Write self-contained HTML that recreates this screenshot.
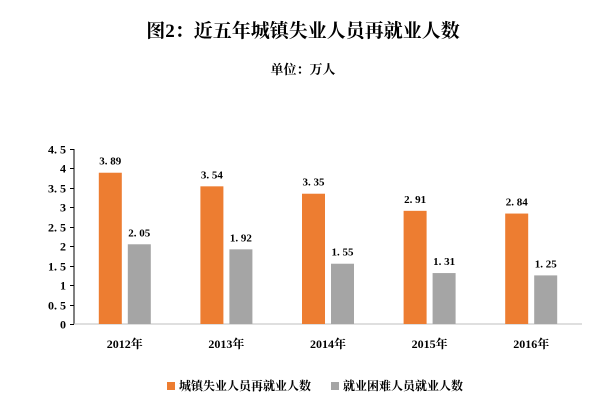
<!DOCTYPE html>
<html><head><meta charset="utf-8"><style>
body{margin:0;background:#fff}
svg text{font-family:"Liberation Serif","Noto Serif CJK SC",serif;font-weight:bold;fill:#000}
</style></head><body>
<svg width="606" height="410" viewBox="0 0 606 410" xmlns="http://www.w3.org/2000/svg">
<text x="303" y="37" text-anchor="middle" font-size="19">图2：近五年城镇失业人员再就业人数</text>
<text x="303" y="74" text-anchor="middle" font-size="13">单位：万人</text>
<g id="plot"></g>
<rect x="167" y="382" width="8" height="8" fill="#ED7D31"/>
<text x="179" y="390" font-size="12">城镇失业人员再就业人数</text>
<rect x="331" y="382" width="8" height="8" fill="#A5A5A5"/>
<text x="343" y="390" font-size="12">就业困难人员就业人数</text>
</svg>
<script>
const categories=["2012年","2013年","2014年","2015年","2016年"];
const reemployed=[3.89,3.54,3.35,2.91,2.84];
const difficult=[2.05,1.92,1.55,1.31,1.25];
const yTicks=["0","0.5","1","1.5","2","2.5","3","3.5","4","4.5"];
const NS="http://www.w3.org/2000/svg";
const g=document.getElementById("plot");
const x0=74,x1=582,yBase=324,yTop=149,yMax=4.5;
const band=(x1-x0)/categories.length;
const y=v=>yBase-(v/yMax)*(yBase-yTop);
function mk(t,a){const e=document.createElementNS(NS,t);for(const k in a)e.setAttribute(k,a[k]);g.appendChild(e);return e;}
let e=mk("line",{x1:x0,y1:yTop,x2:x0,y2:yBase,stroke:"#000","stroke-width":1});


e=mk("line",{x1:x0,y1:yBase,x2:x1,y2:yBase,stroke:"#BFBFBF","stroke-width":1});


yTicks.forEach(t=>{const v=parseFloat(t);const yy=Math.round(y(v))+0.5;
 let l=mk("line",{x1:x0-4,y1:yy,x2:x0,y2:yy,stroke:"#000"});
 
 
 let tx=mk("text",{x:x0-8,y:yy+4,"text-anchor":"end","font-size":"12"});tx.textContent=t.replace(".",". ");
 
 
});
const bw=23,gap=6;
categories.forEach((c,i)=>{
 const cx=x0+band*(i+0.5);
 [[reemployed[i],"#ED7D31",cx-gap/2-bw,"bar-reemployed"],[difficult[i],"#A5A5A5",cx+gap/2,"bar-difficult"]].forEach(([v,col,bx,nm])=>{
  let r=mk("rect",{x:bx,y:y(v),width:bw,height:yBase-y(v),fill:col});
  
  
  let t=mk("text",{x:bx+bw/2,y:y(v)-8,"text-anchor":"middle","font-size":"11"});t.textContent=v.toFixed(2).replace(".",". ");
  
  
 });
 let t=mk("text",{x:cx,y:348,"text-anchor":"middle","font-size":"12"});t.textContent=c;
 
 
});
</script>
</body></html>
